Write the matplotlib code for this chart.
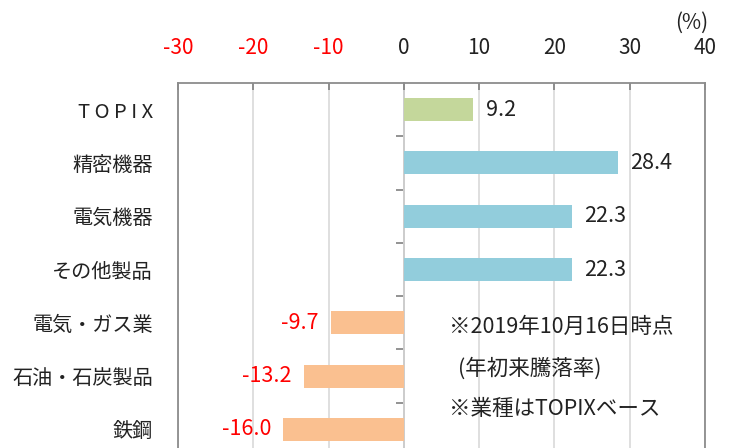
import matplotlib
matplotlib.use('Agg')
import matplotlib.pyplot as plt
import numpy as np

plt.rcParams['font.family'] = ['Noto Sans CJK JP', 'DejaVu Sans']

categories = ['T O P I X', '精密機器', '電気機器', 'その他製品', '電気・ガス業', '石油・石炭製品', '鉄鋼']
values = [9.2, 28.4, 22.3, 22.3, -9.7, -13.2, -16.0]
colors = ['#C4D79B', '#92CDDC', '#92CDDC', '#92CDDC', '#FAC090', '#FAC090', '#FAC090']
x_ticks = [-30, -20, -10, 0, 10, 20, 30, 40]
notes = ['※2019年10月16日時点', '(年初来騰落率)', '※業種はTOPIXベース']

fig = plt.figure(figsize=(7.29, 4.48), dpi=100)
ax = fig.add_axes([178 / 729, 1 - 456 / 448, 527 / 729, 373 / 448])

y = np.arange(len(categories))
ax.barh(y, values, height=0.43, color=colors, zorder=3)

ax.set_xlim(-30, 40)
ax.set_ylim(len(categories) - 0.5, -0.5)

# x軸は上側
ax.xaxis.tick_top()
ax.set_xticks(x_ticks)
ax.set_xticklabels([str(t) for t in x_ticks], fontsize=15)
for lab, t in zip(ax.get_xticklabels(), x_ticks):
    lab.set_color('#FF0000' if t < 0 else '#222222')
ax.tick_params(axis='x', direction='in', length=5, width=1.2, color='#808080', pad=17)
ax.grid(axis='x', color='#D9D9D9', linewidth=1.2, zorder=0)

ax.set_yticks(y)
ax.set_yticklabels(categories, fontsize=14.5, color='#222222')
ax.tick_params(axis='y', length=0, pad=18)

for s in ['top', 'left', 'right', 'bottom']:
    ax.spines[s].set_color('#8C8C8C')
    ax.spines[s].set_linewidth(1.3)

# 0の位置の縦軸
zero = ax.secondary_yaxis((0 - (-30)) / 70)
zero.set_yticks(np.arange(len(categories) - 1) + 0.5)
zero.set_yticklabels([])
zero.tick_params(axis='y', direction='out', length=6, width=1.2, color='#808080')
zero.spines['left'].set_color('#8C8C8C')
zero.spines['left'].set_linewidth(1.3)

for yi, v in zip(y, values):
    if v >= 0:
        ax.annotate(f'{v:.1f}', (v, yi), xytext=(9, 0), textcoords='offset points',
                    ha='left', va='center', fontsize=15.5, color='#222222')
    else:
        ax.annotate(f'{v:.1f}', (v, yi), xytext=(-9, 0), textcoords='offset points',
                    ha='right', va='center', fontsize=15.5, color='#FF0000')

ax.text(6.0, 4.08, notes[0], fontsize=15.5, va='center', ha='left', color='#222222')
ax.text(7.2, 4.85, notes[1], fontsize=15.5, va='center', ha='left', color='#222222')
ax.text(6.0, 5.62, notes[2], fontsize=15.5, va='center', ha='left', color='#222222')

fig.text(708 / 729, 1 - 23 / 448, '(%)', fontsize=15, ha='right', va='center', color='#222222')

fig.savefig('out.png', dpi=100)
